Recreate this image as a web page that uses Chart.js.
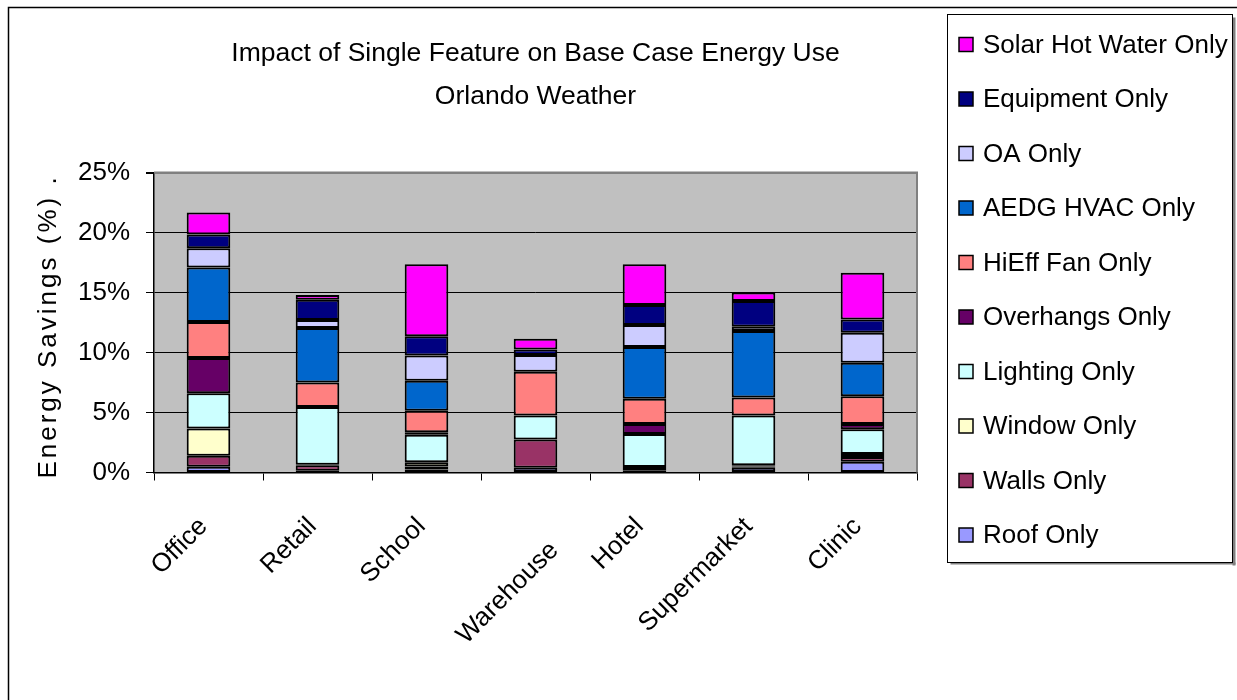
<!DOCTYPE html>
<html>
<head>
<meta charset="utf-8">
<title>Impact of Single Feature on Base Case Energy Use</title>
<script src="https://cdn.jsdelivr.net/npm/chart.js@4.4.1/dist/chart.umd.min.js"></script>
<style>
  html, body { margin: 0; padding: 0; background: #ffffff; }
  #wrap { width: 1237px; height: 700px; position: relative; }
</style>
</head>
<body>
<div id="wrap"><canvas id="chart" width="1237" height="700"></canvas></div>
<script>
// Building types along the x axis (Warehouse label carries a leading blank line)
const categories = ['Office', 'Retail', 'School', ['', 'Warehouse'], 'Hotel', 'Supermarket', 'Clinic'];

// Energy savings (%) for each single feature, per building type
const roofOnly      = [0.47, 0.15, 0.25, 0.40, 0.15, 0.40, 0.90];
const wallsOnly     = [0.92, 0.45, 0.25, 2.35, 0.30, 0.10, 0.40];
const windowOnly    = [2.28, 0.05, 0.35, 0.00, 0.00, 0.10, 0.25];
const lightingOnly  = [2.94, 4.80, 2.30, 2.00, 2.75, 4.15, 2.05];
const overhangsOnly = [2.94, 0.00, 0.20, 0.00, 0.85, 0.00, 0.45];
const hiEffFanOnly  = [3.00, 2.05, 1.80, 3.65, 2.10, 1.50, 2.30];
const aedgHvacOnly  = [4.53, 4.55, 2.50, 0.00, 4.30, 5.55, 2.80];
const oaOnly        = [1.61, 0.65, 2.10, 1.40, 1.85, 0.35, 2.50];
const equipmentOnly = [1.14, 1.70, 1.60, 0.45, 1.65, 2.15, 1.10];
const solarHotWater = [1.83, 0.40, 6.00, 0.90, 3.40, 0.70, 3.90];

// Y axis ticks (percent)
const yTicks = [0, 5, 10, 15, 20, 25];

const titleLines = ['Impact of Single Feature on Base Case Energy Use', 'Orlando Weather'];
const yAxisTitle = 'Energy Savings (%) .';

const FONT = "'Liberation Sans', Arial, Helvetica, sans-serif";
Chart.defaults.font.family = FONT;
Chart.defaults.color = '#000000';

function series(label, data, color) {
  return {
    label, data,
    backgroundColor: color,
    borderColor: '#000000',
    borderWidth: 2,
    borderSkipped: false,
    categoryPercentage: 1.0,
    barPercentage: 0.4
  };
}

// Stacked bottom-to-top
const datasets = [
  series('Roof Only', roofOnly, '#9999FF'),
  series('Walls Only', wallsOnly, '#993366'),
  series('Window Only', windowOnly, '#FFFFCC'),
  series('Lighting Only', lightingOnly, '#CCFFFF'),
  series('Overhangs Only', overhangsOnly, '#660066'),
  series('HiEff Fan Only', hiEffFanOnly, '#FF8080'),
  series('AEDG HVAC Only', aedgHvacOnly, '#0066CC'),
  series('OA Only', oaOnly, '#CCCCFF'),
  series('Equipment Only', equipmentOnly, '#000080'),
  series('Solar Hot Water Only', solarHotWater, '#FF00FF')
];

// Grey plot background, outer frame, plot frame, rotated y title and the boxed legend
const decorations = {
  id: 'decorations',
  beforeDraw(chart) {
    const { ctx, chartArea: a } = chart;
    ctx.save();
    ctx.fillStyle = '#ffffff';
    ctx.fillRect(0, 0, chart.width, chart.height);
    ctx.fillStyle = '#C0C0C0';
    ctx.fillRect(a.left, a.top, a.right - a.left, a.bottom - a.top);
    // outer chart frame
    ctx.strokeStyle = '#000000';
    ctx.lineWidth = 1.5;
    ctx.beginPath();
    ctx.moveTo(8.5, chart.height + 2);
    ctx.lineTo(8.5, 7.5);
    ctx.lineTo(chart.width + 2, 7.5);
    ctx.stroke();
    ctx.restore();
  },
  beforeDatasetsDraw(chart) {
    const { ctx, chartArea: a } = chart;
    ctx.save();
    ctx.strokeStyle = '#808080';
    ctx.lineWidth = 2;
    ctx.beginPath();
    ctx.moveTo(a.left, a.top);
    ctx.lineTo(a.right, a.top);
    ctx.lineTo(a.right, a.bottom);
    ctx.stroke();
    ctx.restore();
  },
  afterDraw(chart) {
    const { ctx, chartArea: a } = chart;
    // y axis title
    ctx.save();
    ctx.font = '26px ' + FONT;
    ctx.fillStyle = '#000000';
    ctx.letterSpacing = '3px';
    ctx.textAlign = 'center';
    ctx.textBaseline = 'alphabetic';
    ctx.translate(56, (a.top + a.bottom) / 2 + 4);
    ctx.rotate(-Math.PI / 2);
    ctx.fillText(yAxisTitle, 0, 0);
    ctx.restore();

    // legend box
    const box = { left: 947.5, top: 14.5, right: 1232.5, bottom: 562.5 };
    ctx.save();
    ctx.fillStyle = '#808080';
    ctx.fillRect(box.right, box.top + 3, 3, box.bottom - box.top);
    ctx.fillRect(box.left + 3, box.bottom, box.right - box.left, 2);
    ctx.fillStyle = '#ffffff';
    ctx.fillRect(box.left, box.top, box.right - box.left, box.bottom - box.top);
    ctx.strokeStyle = '#000000';
    ctx.lineWidth = 1;
    ctx.strokeRect(box.left, box.top, box.right - box.left, box.bottom - box.top);

    ctx.font = '26px ' + FONT;
    ctx.textBaseline = 'middle';
    ctx.textAlign = 'left';
    const items = chart.data.datasets.slice().reverse();
    const firstY = 44.5, step = 54.5;
    items.forEach((ds, i) => {
      const cy = firstY + i * step;
      ctx.fillStyle = ds.backgroundColor;
      ctx.fillRect(959, cy - 7, 14, 14);
      ctx.strokeStyle = '#000000';
      ctx.lineWidth = 1.5;
      ctx.strokeRect(959, cy - 7, 14, 14);
      ctx.fillStyle = '#000000';
      ctx.fillText(ds.label, 983, cy + 1);
    });
    ctx.restore();
  }
};

new Chart(document.getElementById('chart'), {
  type: 'bar',
  data: { labels: categories, datasets },
  options: {
    responsive: false,
    animation: false,
    layout: { padding: { top: 10, left: 0, right: 320, bottom: 0 } },
    plugins: {
      legend: { display: false },
      tooltip: { enabled: false },
      title: {
        display: true,
        fullSize: false,
        text: titleLines,
        color: '#000000',
        font: { size: 26.5, weight: 'normal', lineHeight: 43 / 26.5 },
        padding: { top: 22.5, bottom: 54 }
      }
    },
    scales: {
      x: {
        stacked: true,
        offset: true,
        grid: {
          offset: true,
          drawOnChartArea: false,
          drawTicks: true,
          tickLength: 8,
          tickColor: '#000000',
          color: '#000000'
        },
        border: { display: true, color: '#000000', width: 1.5 },
        ticks: {
          autoSkip: false,
          minRotation: 45,
          maxRotation: 45,
          padding: 30,
          labelOffset: -5,
          color: '#000000',
          font: { size: 26, lineHeight: 1.3 }
        },
        afterFit(scale) { scale.height = 227.5; }
      },
      y: {
        stacked: true,
        min: 0,
        max: 25,
        afterBuildTicks(scale) { scale.ticks = yTicks.map(v => ({ value: v })); },
        grid: {
          drawTicks: true,
          tickLength: 8,
          tickColor: '#000000',
          color: (c) => (c.tick && c.tick.value === 25) ? '#808080' : '#000000',
          lineWidth: (c) => (c.tick && c.tick.value === 25) ? 2 : 1
        },
        border: { display: true, color: '#000000', width: 1.5 },
        ticks: {
          padding: 16,
          color: '#000000',
          font: { size: 26 },
          callback: (v) => v + '%'
        },
        afterFit(scale) { scale.width = 154; }
      }
    }
  },
  plugins: [decorations]
});
</script>
</body>
</html>
